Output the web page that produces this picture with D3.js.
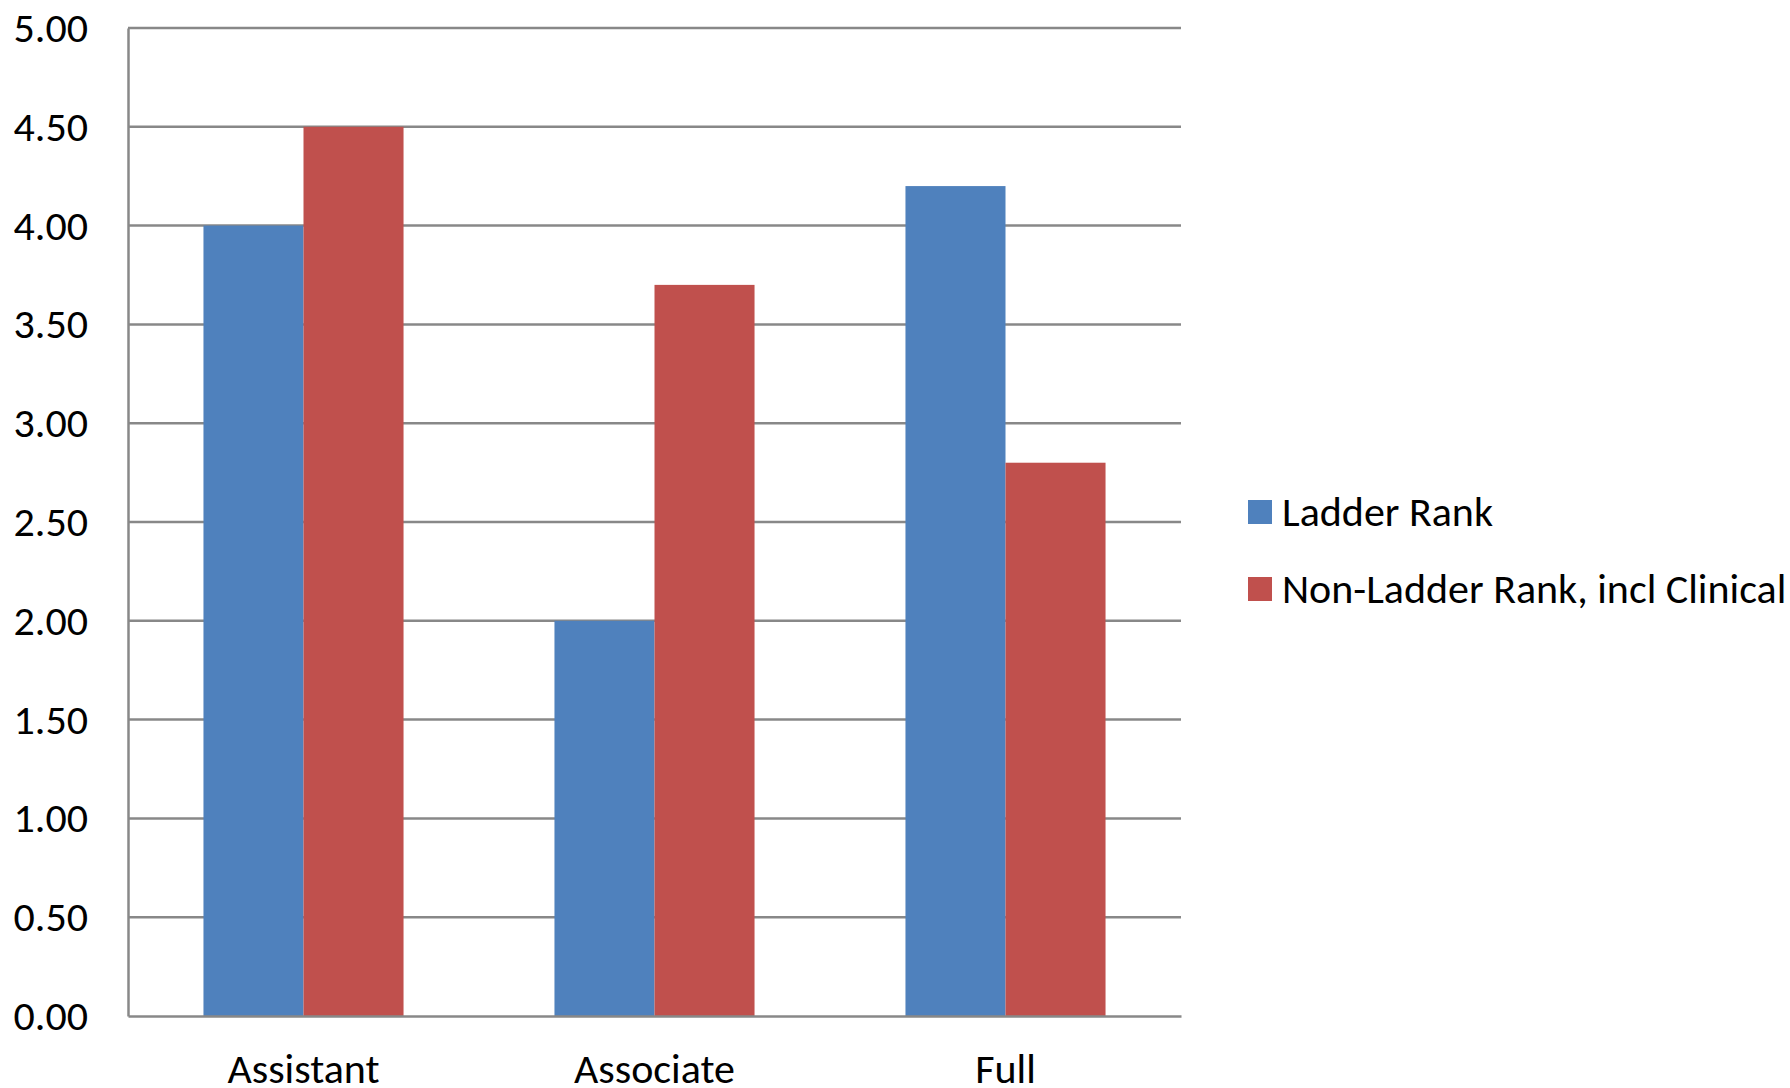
<!DOCTYPE html>
<html><head><meta charset="utf-8">
<script src="https://cdn.jsdelivr.net/npm/d3@7"></script>
<style>body{margin:0;background:#fff}svg{display:block}</style>
</head><body>
<script>
const categories = ["Assistant", "Associate", "Full"];
const seriesNames = ["Ladder Rank", "Non-Ladder Rank, incl Clinical"];
const ladderRank = [4.0, 2.0, 4.2];
const nonLadderRank = [4.5, 3.7, 2.8];
const yTicks = [0, 0.5, 1, 1.5, 2, 2.5, 3, 3.5, 4, 4.5, 5];
const colors = ["#4F81BD", "#C0504D"];

const W = 1790, H = 1088;
const plot = {left: 128, right: 1181, top: 28, bottom: 1016};
const font = "Carlito, Calibri, 'Open Sans', sans-serif";

const svg = d3.select("body").append("svg").attr("width", W).attr("height", H);

const x0 = d3.scaleBand().domain(categories).range([plot.left, plot.right])
  .paddingInner(0.43).paddingOuter(0.215);
const x1 = d3.scaleBand().domain(seriesNames).range([0, x0.bandwidth()]);
const y = d3.scaleLinear().domain([0, 5]).range([plot.bottom, plot.top]);

// gridlines
svg.append("g").selectAll("line").data(yTicks.filter(d => d > 0)).join("line")
  .attr("x1", plot.left).attr("x2", plot.right)
  .attr("y1", d => y(d)).attr("y2", d => y(d))
  .attr("stroke", "#888888").attr("stroke-width", 2.5);

// bars
const data = categories.map((c, i) => ({cat: c, vals: [ladderRank[i], nonLadderRank[i]]}));
svg.append("g").selectAll("g").data(data).join("g")
  .attr("transform", d => `translate(${x0(d.cat)},0)`)
  .selectAll("rect").data(d => d.vals.map((v, j) => ({name: seriesNames[j], v, j}))).join("rect")
  .attr("x", d => x1(d.name)).attr("width", x1.bandwidth())
  .attr("y", d => y(d.v)).attr("height", d => y(0) - y(d.v))
  .attr("fill", d => colors[d.j]);

// axes
const yAxis = d3.axisLeft(y).tickValues(yTicks).tickFormat(d3.format(".2f")).tickSize(0).tickPadding(40);
const gy = svg.append("g").attr("transform", `translate(${plot.left},0)`).call(yAxis);
gy.select(".domain").attr("stroke", "#888888").attr("stroke-width", 2.5);
gy.selectAll("text").attr("font-family", font).attr("font-size", 42).attr("fill", "#000");

const xAxis = d3.axisBottom(x0).tickSize(0).tickPadding(37);
const gx = svg.append("g").attr("transform", `translate(0,${plot.bottom})`).call(xAxis);
gx.select(".domain").attr("stroke", "#888888").attr("stroke-width", 2.5);
gx.selectAll("text").attr("font-family", font).attr("font-size", 42).attr("fill", "#000");

// legend
const legend = svg.append("g").selectAll("g").data(seriesNames).join("g")
  .attr("transform", (d, i) => `translate(1248,${500 + i * 77})`);
legend.append("rect").attr("width", 24).attr("height", 24).attr("fill", (d, i) => colors[i]);
legend.append("text").attr("x", 34).attr("y", 26)
  .attr("font-family", font).attr("font-size", 42).attr("fill", "#000").text(d => d);
</script>
</body></html>
